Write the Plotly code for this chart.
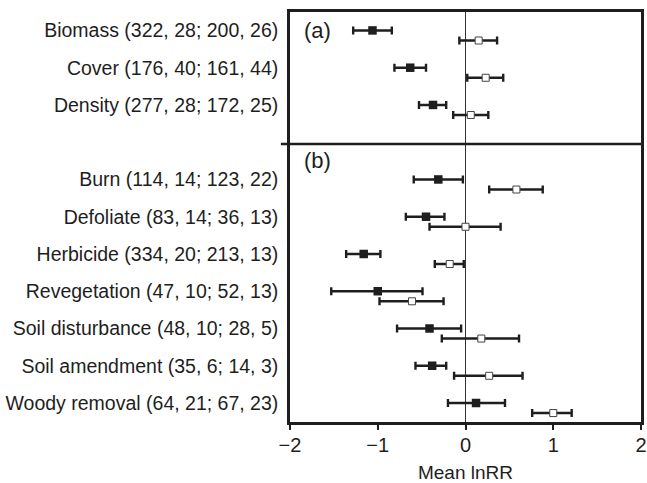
import plotly.graph_objects as go

categories = [
    "Biomass (322, 28; 200, 26)",
    "Cover (176, 40; 161, 44)",
    "Density (277, 28; 172, 25)",
    "Burn (114, 14; 123, 22)",
    "Defoliate (83, 14; 36, 13)",
    "Herbicide (334, 20; 213, 13)",
    "Revegetation (47, 10; 52, 13)",
    "Soil disturbance (48, 10; 28, 5)",
    "Soil amendment (35, 6; 14, 3)",
    "Woody removal (64, 21; 67, 23)",
]
panel = ["a", "a", "a", "b", "b", "b", "b", "b", "b", "b"]

filled_mean = [-1.06, -0.63, -0.37, -0.31, -0.45, -1.16, -1.00, -0.41, -0.38, 0.12]
filled_lo = [-1.28, -0.81, -0.53, -0.59, -0.68, -1.36, -1.53, -0.78, -0.57, -0.20]
filled_hi = [-0.84, -0.45, -0.22, -0.03, -0.24, -0.97, -0.49, -0.05, -0.22, 0.45]

open_mean = [0.15, 0.23, 0.06, 0.58, 0.00, -0.18, -0.61, 0.18, 0.27, 1.00]
open_lo = [-0.07, 0.02, -0.14, 0.27, -0.41, -0.35, -0.98, -0.27, -0.13, 0.76]
open_hi = [0.36, 0.43, 0.26, 0.88, 0.40, -0.02, -0.25, 0.61, 0.65, 1.21]

x_ticks = [-2, -1, 0, 1, 2]
x_ticktext = ["\u22122", "\u22121", "0", "1", "2"]

# slot positions: panel (a) rows, one empty slot, then panel (b) rows
slots = []
s = 0
prev = panel[0]
for p in panel:
    if p != prev:
        s += 1
        prev = p
    slots.append(s)
    s += 1

OFFSET = 0.27
ink = "#1e1e1e"

fig = go.Figure()
fig.add_trace(go.Scatter(
    x=filled_mean, y=slots, mode="markers", name="filled",
    marker=dict(symbol="square", size=8.5, color=ink, line=dict(width=0)),
    error_x=dict(type="data", symmetric=False,
                 array=[h - m for h, m in zip(filled_hi, filled_mean)],
                 arrayminus=[m - l for m, l in zip(filled_mean, filled_lo)],
                 color=ink, thickness=2.4, width=4),
    showlegend=False,
))
fig.add_trace(go.Scatter(
    x=open_mean, y=[v + OFFSET for v in slots], mode="markers", name="open",
    marker=dict(symbol="square", size=7, color="white", line=dict(width=1, color="#444")),
    error_x=dict(type="data", symmetric=False,
                 array=[h - m for h, m in zip(open_hi, open_mean)],
                 arrayminus=[m - l for m, l in zip(open_mean, open_lo)],
                 color=ink, thickness=2.4, width=4),
    showlegend=False,
))

divider = slots[3] - 0.95
fig.add_shape(type="line", xref="paper", yref="y", x0=-0.026, x1=1.0, y0=divider, y1=divider,
              line=dict(color=ink, width=2.6))

fig.add_annotation(text="(a)", xref="paper", yref="paper", x=0.034, y=1 - (16 - 12.3) / 409.4,
                   xanchor="left", yanchor="top", showarrow=False,
                   font=dict(family="Liberation Sans, Arial", size=22, color=ink))
fig.add_annotation(text="(b)", xref="paper", yref="paper", x=0.034, y=1 - (146 - 12.3) / 409.4,
                   xanchor="left", yanchor="top", showarrow=False,
                   font=dict(family="Liberation Sans, Arial", size=22, color=ink))

fig.update_layout(
    width=647, height=483,
    margin=dict(l=290, r=6, t=12, b=61, autoexpand=False),
    plot_bgcolor="white", paper_bgcolor="white",
    font=dict(family="Liberation Sans, Arial", size=18, color=ink),
    xaxis=dict(range=[-2, 2], tickvals=x_ticks, ticktext=x_ticktext, automargin=False,
               showgrid=False, zeroline=True, zerolinecolor="#333", zerolinewidth=1,
               showline=True, mirror=True, linecolor=ink, linewidth=2.6,
               ticks="outside", ticklen=5, tickwidth=1.5, tickcolor=ink,
               tickfont=dict(size=20), ticklabelstandoff=-2,
               title=dict(text="Mean lnRR", font=dict(size=19))),
    yaxis=dict(range=[10.51, -0.495], tickvals=slots, ticktext=categories, automargin=False,
               showgrid=False, zeroline=False,
               showline=True, mirror=True, linecolor=ink, linewidth=2.6,
               ticks="", ticklabelstandoff=5, tickfont=dict(size=19.5)),
)

fig.write_html("out.html", config={"displayModeBar": False},
               post_script="document.body.style.margin='0';")
